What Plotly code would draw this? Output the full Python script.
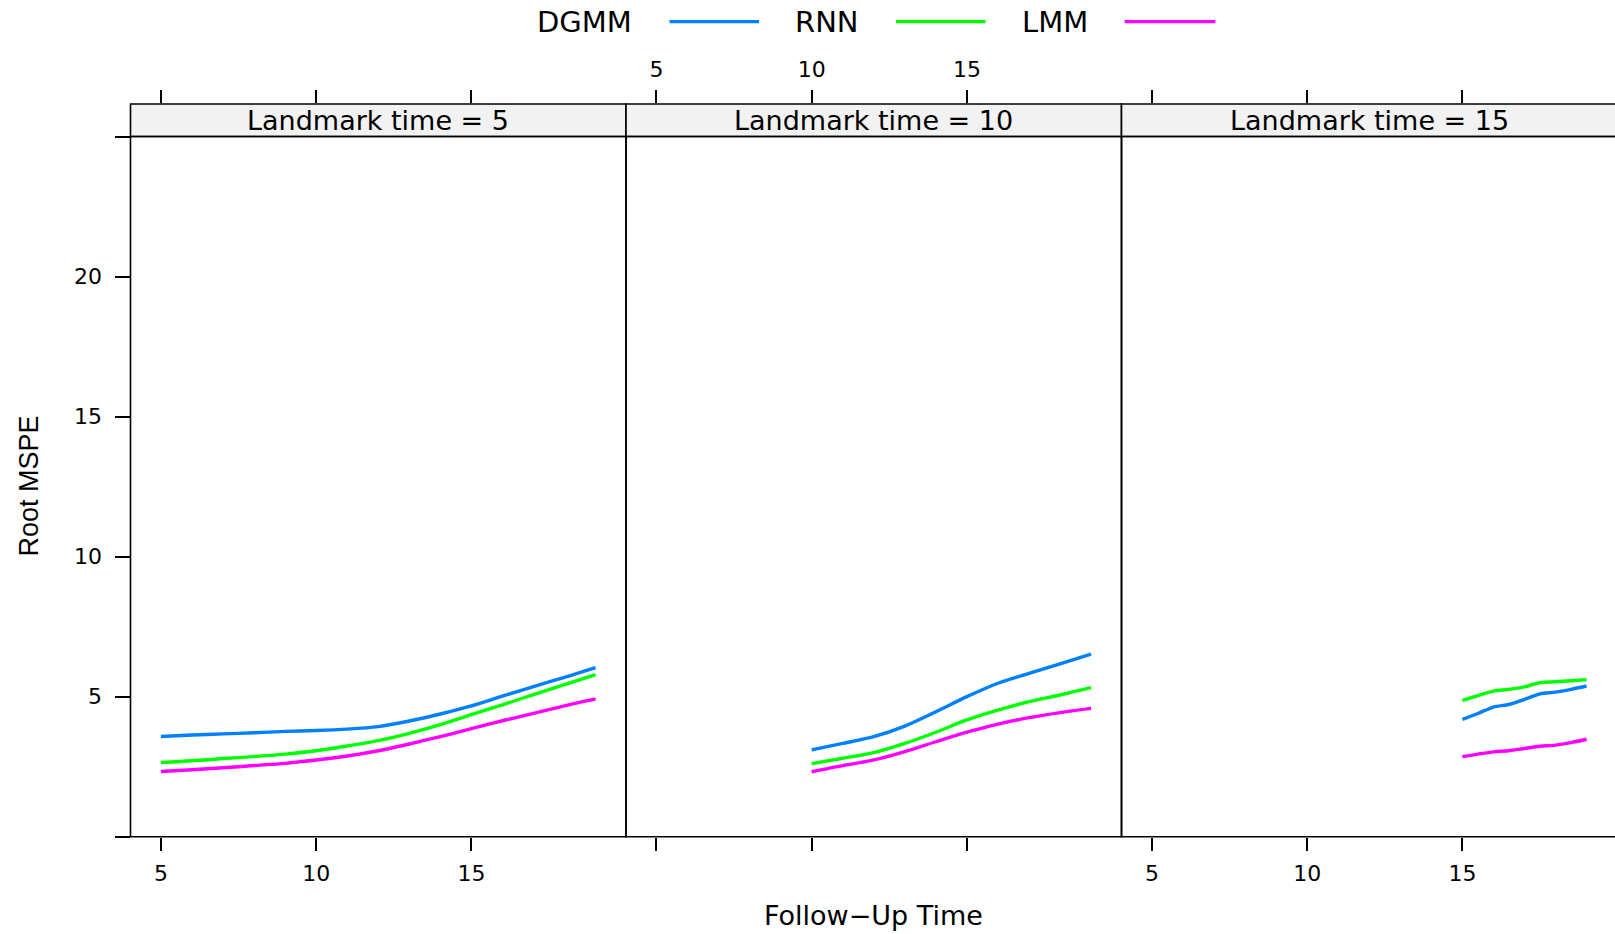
import plotly.graph_objects as go

W, H = 1615, 934

# ---------------- data ----------------
models = ["DGMM", "RNN", "LMM"]
colors = ["#0080FF", "#00FF00", "#FF00FF"]
landmarks = [5, 10, 15]
strip_labels = ["Landmark time = 5", "Landmark time = 10", "Landmark time = 15"]

# Landmark time = 5
followup_lm5 = [5, 6, 7, 8, 9, 10, 11, 12, 13, 14, 15, 16, 17, 18, 19]
dgmm_lm5 = [3.58, 3.63, 3.67, 3.71, 3.76, 3.79, 3.84, 3.93, 4.13, 4.38, 4.67, 5.02, 5.36, 5.69, 6.04]
rnn_lm5 = [2.65, 2.71, 2.79, 2.86, 2.95, 3.07, 3.24, 3.43, 3.69, 4.00, 4.36, 4.71, 5.07, 5.43, 5.79]
lmm_lm5 = [2.33, 2.39, 2.46, 2.54, 2.62, 2.74, 2.88, 3.07, 3.31, 3.57, 3.86, 4.14, 4.40, 4.67, 4.92]

# Landmark time = 10
followup_lm10 = [10, 11, 12, 13, 14, 15, 16, 17, 18, 19]
dgmm_lm10 = [3.10, 3.33, 3.57, 3.95, 4.46, 5.00, 5.48, 5.83, 6.17, 6.52]
rnn_lm10 = [2.61, 2.80, 3.00, 3.33, 3.73, 4.17, 4.52, 4.82, 5.06, 5.32]
lmm_lm10 = [2.32, 2.54, 2.74, 3.04, 3.39, 3.73, 4.02, 4.25, 4.43, 4.58]

# Landmark time = 15
followup_lm15 = [15, 15.5, 16, 16.5, 17, 17.5, 18, 18.5, 19]
dgmm_lm15 = [4.19, 4.40, 4.63, 4.72, 4.90, 5.10, 5.16, 5.26, 5.38]
rnn_lm15 = [4.87, 5.04, 5.20, 5.26, 5.35, 5.50, 5.53, 5.57, 5.61]
lmm_lm15 = [2.86, 2.95, 3.03, 3.07, 3.15, 3.23, 3.27, 3.36, 3.48]

x_ticks = [5, 10, 15]
y_ticks = [0, 5, 10, 15, 20, 25]
y_ticktext = ["", "5", "10", "15", "20", ""]

panels = [
    (followup_lm5, [dgmm_lm5, rnn_lm5, lmm_lm5]),
    (followup_lm10, [dgmm_lm10, rnn_lm10, lmm_lm10]),
    (followup_lm15, [dgmm_lm15, rnn_lm15, lmm_lm15]),
]

# ---------------- geometry (pixels) ----------------
px_left = [130.5, 626.0, 1121.5]
panel_w = 495.5
xr0, xr1 = 4.02, 19.98
ppu = panel_w / (xr1 - xr0)
y_bot, y_top, strip_top = 836.7, 136.5, 104.0

def px(x):
    return x / W

def py(y):
    return 1 - y / H

fig = go.Figure()

for i, (xs, series) in enumerate(panels):
    xa = "x" if i == 0 else f"x{i+1}"
    for name, col, ys in zip(models, colors, series):
        fig.add_trace(go.Scatter(
            x=xs, y=ys, mode="lines", name=name,
            line=dict(color=col, width=3.4, shape="spline", smoothing=0.8),
            xaxis=xa, yaxis="y", showlegend=False, hoverinfo="x+y+name"))
    # empty trace so that the top (alternating) axis of this panel is drawn
    fig.add_trace(go.Scatter(x=[], y=[], xaxis=f"x{i+4}", yaxis="y2",
                             showlegend=False, hoverinfo="skip"))

tickfont = dict(family="DejaVu Sans", size=22, color="black")
layout = dict(
    width=W, height=H,
    margin=dict(l=0, r=0, t=0, b=0),
    paper_bgcolor="white", plot_bgcolor="rgba(0,0,0,0)",
    showlegend=False,
)

for i in range(3):
    left = px_left[i]
    right = min(left + panel_w, W)
    rng_end = xr0 + (right - left) / ppu
    common = dict(range=[xr0, rng_end], tickvals=x_ticks, ticks="outside", ticklen=13,
                  tickwidth=1.6, tickcolor="black", showline=False, showgrid=False,
                  zeroline=False, tickfont=tickfont, fixedrange=True,
                  domain=[px(left), px(right)])
    kb = "xaxis" if i == 0 else f"xaxis{i+1}"
    layout[kb] = dict(common, anchor="y", side="bottom",
                      showticklabels=(i != 1), ticklabelstandoff=4)
    kt = f"xaxis{i+4}"
    layout[kt] = dict(common, anchor="y2", side="top",
                      showticklabels=(i == 1), ticklabelstandoff=4)

layout["yaxis"] = dict(domain=[py(y_bot), py(y_top)], range=[0, 25], anchor="x",
                       tickvals=y_ticks, ticktext=y_ticktext, ticks="outside", ticklen=15,
                       tickwidth=1.6, tickcolor="black", showline=False, showgrid=False,
                       zeroline=False, tickfont=tickfont, fixedrange=True,
                       ticklabelstandoff=8)
layout["yaxis2"] = dict(domain=[py(y_bot), py(strip_top)], range=[0, 1], anchor="x4",
                        showticklabels=False, ticks="", showline=False, showgrid=False,
                        zeroline=False, fixedrange=True)

shapes = []
annotations = []
for i in range(3):
    left = px_left[i]
    right = left + panel_w
    shapes.append(dict(type="rect", xref="paper", yref="paper",
                       x0=px(left), x1=px(right), y0=py(y_top), y1=py(strip_top),
                       fillcolor="#F2F2F2", line=dict(color="black", width=1.6), layer="above"))
    shapes.append(dict(type="rect", xref="paper", yref="paper",
                       x0=px(left), x1=px(right), y0=py(y_bot), y1=py(y_top),
                       fillcolor="rgba(0,0,0,0)", line=dict(color="black", width=1.6), layer="above"))
    annotations.append(dict(text=strip_labels[i], xref="paper", yref="paper",
                            x=px((left + right) / 2), y=py((y_top + strip_top) / 2),
                            xanchor="center", yanchor="middle", showarrow=False,
                            font=dict(family="DejaVu Sans", size=27, color="black")))

# legend (text then line sample)
leg_text_x = [584, 827, 1054.6]
leg_line = [(669.5, 759), (896, 985.6), (1124.7, 1215.3)]
leg_y = 21.6
for name, col, tx, (l0, l1) in zip(models, colors, leg_text_x, leg_line):
    annotations.append(dict(text=name, xref="paper", yref="paper", x=px(tx), y=py(leg_y),
                            xanchor="center", yanchor="middle", showarrow=False,
                            font=dict(family="DejaVu Sans", size=29, color="black")))
    shapes.append(dict(type="line", xref="paper", yref="paper", x0=px(l0), x1=px(l1),
                       y0=py(leg_y), y1=py(leg_y), line=dict(color=col, width=3.4)))

annotations.append(dict(text="Follow\u2212Up Time", xref="paper", yref="paper",
                        x=px(873.5), y=py(915.6), xanchor="center", yanchor="middle",
                        showarrow=False, font=dict(family="DejaVu Sans", size=27, color="black")))
annotations.append(dict(text="Root MSPE", xref="paper", yref="paper",
                        x=px(29), y=py(486.6), xanchor="center", yanchor="middle",
                        textangle=-90, showarrow=False,
                        font=dict(family="Liberation Sans", size=27, color="black")))

layout["shapes"] = shapes
layout["annotations"] = annotations
fig.update_layout(**layout)

fig.write_html("out.html",
               config={"displayModeBar": False},
               post_script="document.body.style.margin='0';document.body.style.overflow='hidden';")
